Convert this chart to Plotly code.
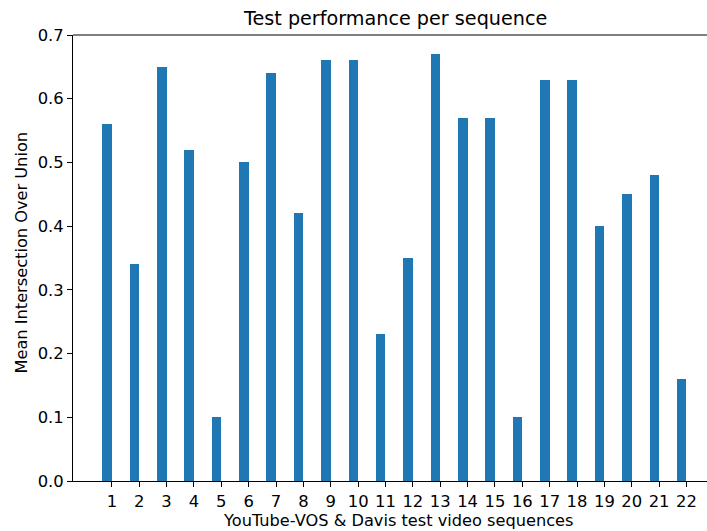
import plotly.graph_objects as go

sequences = list(range(1, 23))
mean_iou = [0.56, 0.34, 0.65, 0.52, 0.10, 0.50, 0.64, 0.42, 0.66, 0.66, 0.23,
            0.35, 0.67, 0.57, 0.57, 0.10, 0.63, 0.63, 0.40, 0.45, 0.48, 0.16]
y_ticks = [0.0, 0.1, 0.2, 0.3, 0.4, 0.5, 0.6, 0.7]

fig = go.Figure()
fig.add_trace(go.Bar(x=sequences, y=mean_iou, width=0.35, offset=-0.35,
                     marker=dict(color="#1f77b4", line=dict(width=0))))

fig.update_layout(
    width=707, height=531,
    margin=dict(l=73, r=0, t=35, b=50, autoexpand=False),
    plot_bgcolor="white", paper_bgcolor="white",
    font=dict(family="DejaVu Sans", size=16.4, color="black"),
    showlegend=False,
    bargap=0,
)
fig.update_xaxes(range=[-0.42, 22.75], tickmode="array", tickvals=sequences,
                 ticktext=[str(s) for s in sequences], automargin=False,
                 ticks="outside", ticklen=5, tickwidth=1, tickcolor="black",
                 showline=True, linecolor="black", linewidth=1, showgrid=False,
                 zeroline=False, tickfont=dict(size=16.4))
fig.update_yaxes(range=[0, 0.7], tickmode="array", tickvals=y_ticks,
                 ticktext=[f"{v:.1f}" for v in y_ticks], automargin=False,
                 ticks="outside", ticklen=5, tickwidth=1, tickcolor="black",
                 showline=True, linecolor="black", linewidth=1, showgrid=False,
                 zeroline=False, tickfont=dict(size=16.4))
fig.add_shape(type="line", xref="paper", yref="paper", x0=0, x1=1, y0=1, y1=1,
              line=dict(color="black", width=1))

pw, ph = 634, 446
fig.add_annotation(text="Test performance per sequence", xref="paper", yref="paper",
                   x=(395.5 - 73) / pw, y=1 + (35 - 19) / ph,
                   xanchor="center", yanchor="middle", showarrow=False,
                   font=dict(size=19.2))
fig.add_annotation(text="YouTube-VOS & Davis test video sequences",
                   xref="paper", yref="paper",
                   x=(398 - 73) / pw, y=-(520 - 481) / ph,
                   xanchor="center", yanchor="middle", showarrow=False,
                   font=dict(size=16.2))
fig.add_annotation(text="Mean Intersection Over Union", xref="paper", yref="paper",
                   x=(21 - 73) / pw, y=(481 - 252.5) / ph, textangle=-90,
                   xanchor="center", yanchor="middle", showarrow=False,
                   font=dict(size=16.2))

fig.write_html("out.html", config={"displayModeBar": False},
               post_script="document.body.style.margin='0';"
                           "document.body.style.overflow='hidden';")
